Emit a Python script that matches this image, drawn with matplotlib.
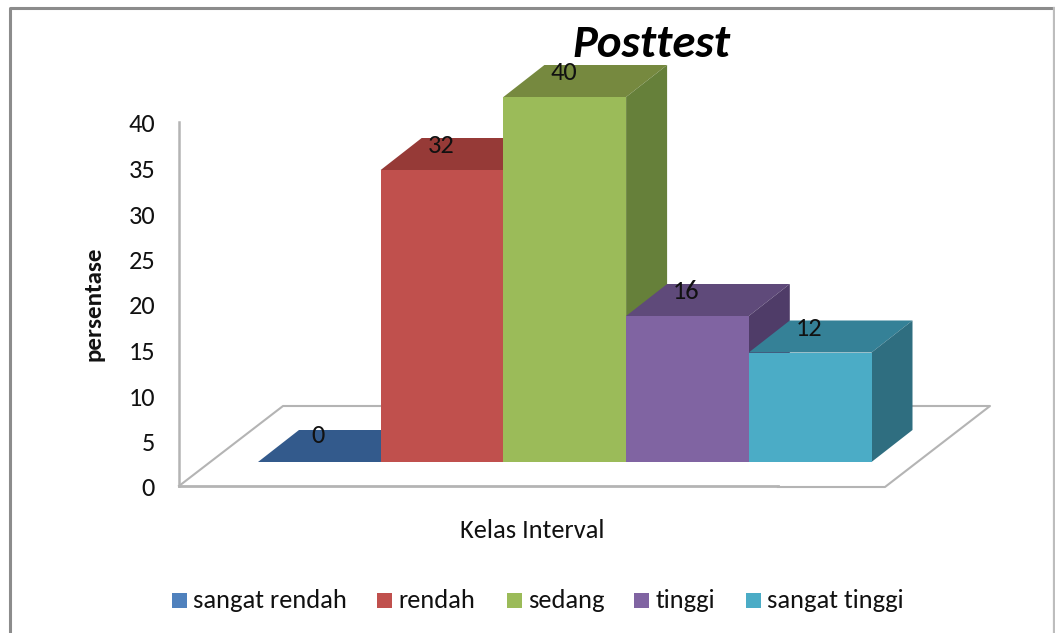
import matplotlib
matplotlib.use("Agg")
import matplotlib.pyplot as plt
from matplotlib.patches import Polygon, Rectangle

W, H = 1055, 633

categories = ["sangat rendah", "rendah", "sedang", "tinggi", "sangat tinggi"]
values = [0, 32, 40, 16, 12]
y_ticks = [0, 5, 10, 15, 20, 25, 30, 35, 40]

front = ["#2F5A92", "#C0504D", "#9BBB59", "#8064A2", "#4BACC6"]
top = ["#335A8C", "#963A37", "#76893F", "#5F4A7A", "#358197"]
side = ["#2A4E7C", "#7E302E", "#66803A", "#4F3C68", "#2F6E80"]
legend_colors = ["#4F81BD", "#C0504D", "#9BBB59", "#8064A2", "#4BACC6"]

# pixels per category and per value unit
px_x = 122.7
px_y = 9.125
x0_px = 258.0
base_px = 462.0
depth_x = 41.0 / px_x
depth_y = 32.0 / px_y

plt.rcParams['font.family'] = ['Carlito', 'Lato', 'DejaVu Sans']
fig = plt.figure(figsize=(W / 100, H / 100), dpi=100)
ax = fig.add_axes([0, 0, 1, 1])
ax.set_xlim((0 - x0_px) / px_x, (W - x0_px) / px_x)
ax.set_ylim((base_px - H) / px_y, base_px / px_y)
ax.axis("off")


def to_x(px):
    return (px - x0_px) / px_x


def to_y(px):
    return (base_px - px) / px_y


def pts(*pairs):
    return [(to_x(a), to_y(b)) for a, b in pairs]


# outer frame
grey = "#8C8C8C"
ax.plot(*zip(*pts((10, 633), (10, 7.5), (1054, 7.5))), color=grey, lw=2.2, solid_capstyle="butt")
ax.plot(*zip(*pts((1054, 7.5), (1054, 633))), color="#BDBDBD", lw=1.6)

# floor and wall
line = "#B4B4B4"
ax.plot(*zip(*pts((179, 122), (179, 486))), color=line, lw=1.8)
ax.plot(*zip(*pts((179, 486), (283, 406), (990, 406), (885, 487), (778, 487))), color=line, lw=1.5)
ax.plot(*zip(*pts((179, 486), (778, 486))), color=line, lw=2)

# bars
for i, v in enumerate(values):
    ax.add_patch(Polygon([(i, v), (i + depth_x, v + depth_y), (i + 1 + depth_x, v + depth_y), (i + 1, v)],
                         facecolor=top[i], edgecolor="none", zorder=2 + i))
    if v > 0:
        ax.add_patch(Polygon([(i + 1, 0), (i + 1 + depth_x, depth_y), (i + 1 + depth_x, v + depth_y), (i + 1, v)],
                             facecolor=side[i], edgecolor="none", zorder=2 + i))
        ax.bar(i, v, width=1, align="edge", color=front[i], zorder=2 + i)
    ax.text(i + 0.49, v + depth_y - 0.85 if v else 2.85, str(v), ha="center", va="center",
            fontsize=19, color="#111111", zorder=20)

# axis labels
for t in y_ticks:
    ax.text(to_x(155), to_y(489 - t * 9.1), str(t), ha="right", va="center", fontsize=19, color="#111111")

ax.text(to_x(94), to_y(304), "persentase", rotation=90, ha="center", va="center",
        fontsize=18, fontweight="bold", color="#111111")
ax.text(to_x(532), to_y(530), "Kelas Interval", ha="center", va="center", fontsize=19, color="#111111")
ax.text(to_x(651), to_y(44), "Posttest", ha="center", va="center", fontsize=33.7,
        fontweight="bold", fontstyle="italic", color="black", zorder=30)

# legend
legend_x = [172, 377, 507, 634, 746]
legend_label_x = [193, 398, 528, 656, 767]
for c, lx, tx, col in zip(categories, legend_x, legend_label_x, legend_colors):
    ax.add_patch(Rectangle((to_x(lx), to_y(608)), 15 / px_x, 15 / px_y, facecolor=col, edgecolor="none"))
    ax.text(to_x(tx), to_y(600), c, ha="left", va="center", fontsize=19, color="#111111")

fig.savefig("out.png", dpi=100)
